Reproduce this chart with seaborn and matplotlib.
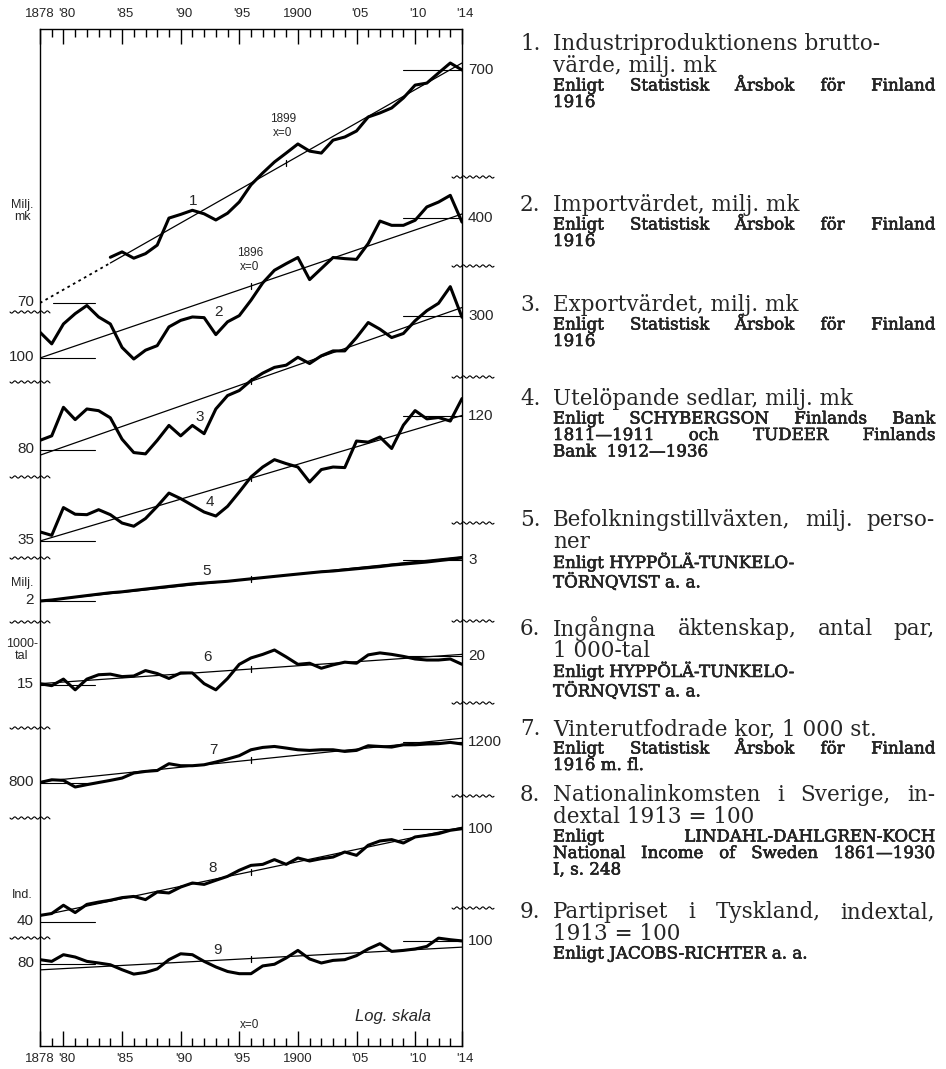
import numpy as np
import pandas as pd
import matplotlib
matplotlib.use("Agg")
import matplotlib.pyplot as plt
import matplotlib.patheffects as pe
import seaborn as sns

# values (log scale, one band per series)
years = list(range(1878, 1915))
industri_years = list(range(1884, 1915))
industri = [110, 116, 109, 114, 124, 162, 168, 175, 169, 159, 170, 190, 225, 253, 282, 308,
            337, 314, 308, 350, 361, 383, 440, 458, 481, 531, 603, 615, 680, 750, 700]
import_varde = [129, 115, 140, 155, 168, 150, 140, 111, 99, 108, 113, 136, 145, 150, 149, 126,
                143, 152, 177, 210, 238, 254, 270, 217, 242, 270, 267, 265, 310, 387, 371, 371,
                390, 445, 467, 499, 383]
export_varde = [88, 92, 122, 108, 120, 118, 110, 89, 78, 77, 88, 102, 92, 102, 94, 120, 137,
                144, 159, 171, 181, 185, 200, 188, 203, 213, 213, 243, 282, 264, 243, 253, 287,
                317, 341, 402, 297]
sedlar = [38.3, 37.0, 48.7, 45.6, 45.4, 47.7, 45.4, 41.8, 40.5, 43.7, 49.3, 56.2, 53.2, 49.8,
          46.6, 44.8, 49.3, 56.8, 65.9, 72.7, 78.2, 75.2, 72.7, 62.7, 70.9, 72.7, 72.3, 94.0,
          93.0, 97.8, 87.3, 110, 127, 117, 118.6, 114.5, 143]
befolkning = [2.00, 2.02, 2.05, 2.08, 2.11, 2.14, 2.17, 2.19, 2.22, 2.25, 2.28, 2.31, 2.34,
              2.37, 2.39, 2.41, 2.43, 2.46, 2.49, 2.52, 2.55, 2.58, 2.61, 2.64, 2.67, 2.69,
              2.72, 2.75, 2.78, 2.81, 2.85, 2.88, 2.91, 2.94, 2.98, 3.02, 3.06]
aktenskap = [15.2, 14.9, 15.9, 14.3, 15.9, 16.6, 16.7, 16.3, 16.4, 17.3, 16.8, 16.0, 16.9,
             16.9, 15.2, 14.3, 16.0, 18.4, 19.6, 20.3, 21.2, 19.8, 18.4, 18.6, 17.7, 18.3,
             18.8, 18.6, 20.2, 20.6, 20.3, 19.9, 19.4, 19.2, 19.2, 19.4, 18.4]
kor = [804, 826, 821, 769, 787, 804, 821, 840, 883, 897, 905, 968, 949, 949, 958, 984, 1014,
       1048, 1111, 1137, 1148, 1130, 1111, 1104, 1111, 1111, 1093, 1104, 1156, 1148, 1141,
       1167, 1167, 1176, 1180, 1195, 1176]
sverige = [42.7, 43.5, 47.2, 43.9, 47.6, 48.7, 49.6, 50.9, 51.5, 49.9, 53.8, 53.3, 56.5, 58.8,
           58.0, 60.4, 62.8, 66.7, 70.0, 70.7, 74.1, 70.7, 75.3, 73.1, 74.8, 76.0, 79.9, 77.3,
           85.4, 89.1, 90.3, 87.3, 92.7, 94.2, 95.8, 99.0, 100.6]
tyskland = [83.5, 82.1, 87.7, 85.7, 82.1, 80.8, 79.4, 75.6, 72.4, 73.6, 76.2, 83.5, 88.5, 87.7,
            82.1, 77.7, 74.3, 72.7, 72.7, 78.5, 79.8, 84.9, 91.5, 84.1, 80.8, 82.9, 83.5, 86.9,
            92.8, 97.8, 90.6, 91.5, 92.8, 95.2, 103.3, 101.7, 100.5]

# trend lines: value at 1878 and at 1914, year where x=0
trend_start = [70, 100, 76, 35, 2.0, 15.2, 810, 42.5, 75.5]
trend_end = [750, 415, 327, 121, 3.1, 20.3, 1245, 102, 94.5]
trend_zero = [1899, 1896, 1896, 1896, 1896, 1896, 1896, 1896, 1896]

left_values = [70, 100, 80, 35, 2, 15, 800, 40, 80]
right_values = [700, 400, 300, 120, 3, 20, 1200, 100, 100]
unit_labels = [("Milj.\nmk", 211), ("Milj.", 583), ("1000-\ntal", 650), ("Ind.", 895)]

tick_years = [1878, 1880, 1885, 1890, 1895, 1900, 1905, 1910, 1914]
tick_labels = ["1878", "'80", "'85", "'90", "'95", "1900", "'05", "'10", "'14"]

legend_items = [
    ("1.", [("Industriproduktionens brutto-", "m", False), ("värde, milj. mk", "m", False),
            ("Enligt Statistisk Årsbok för Finland", "s", True), ("1916", "s", False)]),
    ("2.", [("Importvärdet, milj. mk", "m", False),
            ("Enligt Statistisk Årsbok för Finland", "s", True), ("1916", "s", False)]),
    ("3.", [("Exportvärdet, milj. mk", "m", False),
            ("Enligt Statistisk Årsbok för Finland", "s", True), ("1916", "s", False)]),
    ("4.", [("Utelöpande sedlar, milj. mk", "m", False),
            ("Enligt SCHYBERGSON Finlands Bank", "s", True),
            ("1811—1911 och TUDEER Finlands", "s", True), ("Bank  1912—1936", "s", False)]),
    ("5.", [("Befolkningstillväxten, milj. perso-", "m", True), ("ner", "m", False),
            ("Enligt HYPPÖLÄ-TUNKELO-", "s", False), ("TÖRNQVIST a. a.", "s", False)]),
    ("6.", [("Ingångna äktenskap, antal par,", "m", True), ("1 000-tal", "m", False),
            ("Enligt HYPPÖLÄ-TUNKELO-", "s", False), ("TÖRNQVIST a. a.", "s", False)]),
    ("7.", [("Vinterutfodrade kor, 1 000 st.", "m", False),
            ("Enligt Statistisk Årsbok för Finland", "s", True), ("1916 m. fl.", "s", False)]),
    ("8.", [("Nationalinkomsten i Sverige, in-", "m", True), ("dextal 1913 = 100", "m", False),
            ("Enligt LINDAHL-DAHLGREN-KOCH", "s", True),
            ("National Income of Sweden 1861—1930", "s", True), ("I, s. 248", "s", False)]),
    ("9.", [("Partipriset i Tyskland, indextal,", "m", True), ("1913 = 100", "m", False),
            ("Enligt JACOBS-RICHTER a. a.", "s", False)]),
]

# layout (pixels)
DECADE = 233
base_rows = [303, 358, 450, 541, 601, 685, 783, 922, 964]
item_rows = [44, 205, 305, 399, 520, 629, 729, 795, 912]
number_pos = [(193, 201), (218, 312), (200, 417), (210, 502), (207, 571), (207, 657),
              (213, 750), (213, 868), (217, 950)]
wavy_left = [312, 382, 477, 558, 622, 728, 818, 938]
wavy_right = [177, 266, 377, 523, 621, 703, 796, 908]
X0, X1, Y_TOP, Y_BOT = 40, 462, 29, 1046

sns.set_style("white")
plt.rcParams["font.family"] = ["Liberation Sans", "DejaVu Sans"]

fig = plt.figure(figsize=(9.46, 10.69), dpi=100)
ax = fig.add_axes([X0 / 946, 1 - Y_BOT / 1069, (X1 - X0) / 946, (Y_BOT - Y_TOP) / 1069])
ov = fig.add_axes([0, 0, 1, 1], facecolor="none")
ax.set_zorder(1)
ov.set_zorder(2)


def to_px(v, i):
    return base_rows[i] - DECADE * np.log10(np.asarray(v, dtype=float) / left_values[i])


def year_px(yr):
    return X0 + (yr - 1878) * (X1 - X0) / 36


def trend_at(i, yr):
    f = (yr - 1878) / 36
    return 10 ** ((1 - f) * np.log10(trend_start[i]) + f * np.log10(trend_end[i]))


series = [(industri_years, industri), (years, import_varde), (years, export_varde),
          (years, sedlar), (years, befolkning), (years, aktenskap), (years, kor),
          (years, sverige), (years, tyskland)]

for i, (yr, vals) in enumerate(series):
    df = pd.DataFrame({"year": yr, "y": to_px(vals, i)})
    sns.lineplot(data=df, x="year", y="y", ax=ax, color="black", lw=2.2,
                 estimator=None, sort=False, legend=False)

    # trend line
    t0 = 1884 if i == 0 else 1878
    tr = pd.DataFrame({"year": [t0, 1914], "y": to_px([trend_at(i, t0), trend_end[i]], i)})
    sns.lineplot(data=tr, x="year", y="y", ax=ax, color="black", lw=0.9,
                 estimator=None, legend=False)
    if i == 0:
        ax.plot([1878, 1884], to_px([trend_start[0], trend_at(0, 1884)], 0),
                color="black", lw=1.3, ls=(0, (1.5, 2)))
    zy = to_px([trend_at(i, trend_zero[i])], i)[0]
    ax.plot([trend_zero[i]] * 2, [zy - 3, zy + 3], color="black", lw=0.9)

    # short reference lines at the left and right labels
    lx0 = 1879.1 if i == 0 else 1878
    ax.plot([lx0, 1882.7], [base_rows[i]] * 2, color="black", lw=0.8)
    ry = to_px([right_values[i]], i)[0]
    ax.plot([1909, 1914], [ry, ry], color="black", lw=0.8)

ax.set_xlim(1878, 1914)
ax.set_ylim(Y_BOT, Y_TOP)
ax.set_xlabel("")
ax.set_ylabel("")
ax.set_yticks([])
ax.set_xticks(tick_years)
ax.set_xticks(years, minor=True)
ax.tick_params(axis="x", which="both", direction="in", top=True, bottom=True,
               labeltop=False, labelbottom=False, width=1, color="black")
ax.tick_params(axis="x", which="major", length=11)
ax.tick_params(axis="x", which="minor", length=6)
for s in ax.spines.values():
    s.set_visible(True)
    s.set_color("black")
    s.set_linewidth(1)

# overlay in pixel coordinates for labels and decorations
ov.set_xlim(0, 946)
ov.set_ylim(1069, 0)
ov.axis("off")

for yr, lab in zip(tick_years, tick_labels):
    dx = 3 if lab.startswith("'") else 0
    for ty in (14, 1059):
        ov.text(year_px(yr) + dx, ty, lab, ha="center", va="center", fontsize=9.5)


def wavy(x0, x1, y):
    xs = np.linspace(x0, x1, 80)
    ov.plot(xs, y + 1.1 * np.sin((xs - x0) / 6.5 * 2 * np.pi), color="black", lw=0.8)


for y in wavy_left:
    wavy(10, 50, y)
for y in wavy_right:
    wavy(452, 494, y)

for i in range(9):
    ov.text(34, base_rows[i] - 1, f"{left_values[i]}", ha="right", va="center", fontsize=11)
    ry = to_px([right_values[i]], i)[0]
    ov.text(468, ry, f"{right_values[i]}", ha="left", va="center", fontsize=11)
    ov.text(number_pos[i][0], number_pos[i][1], f"{i + 1}", ha="center", va="center",
            fontsize=11)

for txt, y in unit_labels:
    ov.text(22, y, txt, ha="center", va="center", fontsize=9, linespacing=1.0)

ov.text(283, 126, "1899\nx=0", ha="center", va="center", fontsize=8.5, linespacing=1.3)
ov.text(250, 260, "1896\nx=0", ha="center", va="center", fontsize=8.5, linespacing=1.3)
ov.text(250, 1025, "x=0", ha="center", va="center", fontsize=8.5)
ov.text(393, 1017, "Log. skala", ha="center", va="center", fontsize=12, style="italic")

# right-hand column of descriptions
renderer = fig.canvas.get_renderer()
SERIF = ["DejaVu Serif"]
sizes = {"m": 15.5, "s": 12}
effects = {"m": [], "s": [pe.withStroke(linewidth=0.4, foreground="black")]}
steps = {("m", "m"): 22, ("m", "s"): 20, ("s", "s"): 16.5, ("s", "m"): 20}


def put_line(text, x0, y, kind, justify, x1=935):
    size = sizes[kind]
    style = dict(ha="left", va="center", family=SERIF, path_effects=effects[kind])
    if not justify:
        ov.text(x0, y, text, fontsize=size, **style)
        return
    words = text.split()
    while True:
        arts = [ov.text(0, y, w, fontsize=size, **style) for w in words]
        widths = [a.get_window_extent(renderer).width for a in arts]
        gap = (x1 - x0 - sum(widths)) / (len(words) - 1)
        if gap >= size * 0.3 or size < 7:
            break
        for a in arts:
            a.remove()
        size *= 0.97
    x = x0
    for a, w in zip(arts, widths):
        a.set_x(x)
        x += w + gap


for (num, lines), y in zip(legend_items, item_rows):
    ov.text(520, y, num, ha="left", va="center", fontsize=sizes["m"], family=SERIF)
    prev = None
    for text, kind, just in lines:
        if prev is not None:
            y += steps[(prev, kind)]
            # leave room for the dots over Ö/Ä under a line with descenders
            if prev == "s" and kind == "s" and any(c in "ÄÖ" for c in text[:4]):
                y += 3.5
        put_line(text, 553, y, kind, just)
        prev = kind

fig.savefig("out.png", dpi=100, facecolor="white")
